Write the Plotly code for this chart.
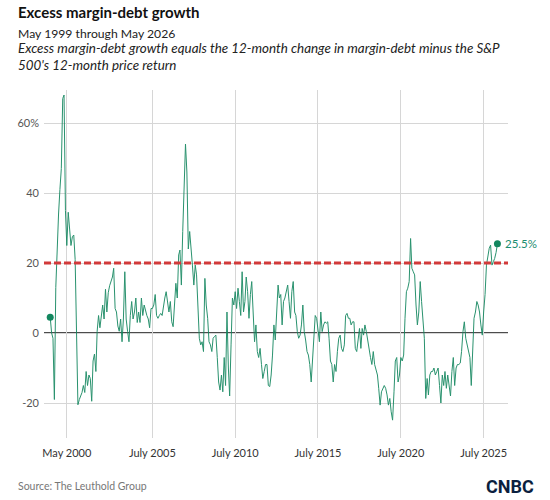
import pandas as pd
import plotly.graph_objects as go

start_month = "1999-05-01"
excess_growth = [
    4.5, 0, -1.5, -19, 13, 26, 34, 41, 47, 67, 68, 35,
    25, 34.5, 30, 25, 27.5, 28, 21, 0, -20.5, -19, -18, -17,
    -15, -17, -11, -15, -12, -13, -19.5, -8, -6, -11, 0.5, 5,
    1.5, 6, 8, 4, 12.5, 6, 11.5, 13.5, 14.5, 16, 18.5, 7,
    6, 2, 0.5, 4, -2.5, 4, 17.5, 4, 0.5, -2.5, 5, 9,
    4, 6, 10, 3, 6, 3, 10, 5, 8, 6, 5, 4,
    1.5, 7, 7, 8, 11, 5, 4.2, 5, 5.6, 5, 8, 10,
    11.8, 8, 6, 9, 3.2, 1.8, 9, 14.2, 10, 22.3, 23.7, 13.7,
    29, 43, 54, 46, 24, 29, 25, 19.4, 13.7, 19.4, 16.6, 9,
    -1.5, -3.4, -2.5, -5.3, 15.6, 8, 4.2, -2.5, -3.4, -5.3, -1.5, -1,
    -0.6, -7, -14, -16.3, -12, -16.8, -7, -15, 6, -10, -18, -3.4,
    10, 8, 11.8, 7, 12.8, 9, 5, 17.5, 6, 9, 16, 11.8,
    4.2, 11, 14.7, 6, -2.5, 2.3, -5.3, -7, -4.4, -9, -13, -11,
    -9, -9, -15, -15.3, -12, -6.3, 2.3, -2, 5, 13.7, 10, 11,
    2.3, 9, 10, 11.8, 13.7, 9, 4.2, 11.8, 14.7, 6, 5, 0.4,
    -1.5, -0.6, 2.3, 8, 0.4, -2, -5.3, -6.3, -9, -14, -7, -1.5,
    5, 4.2, 0.4, -2.5, 6, 0.4, 2.3, 3.2, 2.8, 3.2, -1.5, -8,
    -9, -14, -9, -11, -5.3, -1.5, -0.6, -4.4, -5.3, -3.4, 5, 5.6,
    4.2, 4.2, 2.3, 3.2, 3.2, -4.4, -5.3, -1.5, 1.3, -4.4, 1.3, -0.6,
    2.3, 0.4, -2.5, -4.4, -7, -9, -5.3, -9, -11, -12, -15.8, -20.6,
    -16.8, -15.8, -15, -15.8, -17.7, -20.6, -18.7, -22.5, -24.9, -16.8, -8, -7,
    -14, -12, -7, -8, -6.3, 4.2, 11.8, 12.8, 14.7, 27, 18.5, 17.5,
    16.6, 8, 2.3, 6, 14.7, 9, 2.3, -1.5, -18.7, -13, -17.7, -12,
    -11, -11, -10, -12, -11, -10, -15, -20, -12, -15, -11, -15.8,
    -12, -15, -18, -11, -7, -15, -10, -9, -9, -8.6, -5.3, 0.4,
    3.2, -1.5, -3.4, -5.3, -7, -15, -2.5, 4.2, 6, 9, 8, 6,
    2.3, -0.6, 6, 11, 19.4, 22.3, 24.2, 25.1, 19.4, 20.4, 21.3, 23,
    25.5,
]
threshold = 20
tick_dates = ["2000-05-01", "2005-07-01", "2010-07-01", "2015-07-01", "2020-07-01", "2025-07-01"]
tick_labels = ["May 2000", "July 2005", "July 2010", "July 2015", "July 2020", "July 2025"]
y_ticks = [-20, 0, 20, 40, 60]
y_labels = ["-20", "0", "20", "40", "60%"]

dates = pd.date_range(start_month, periods=len(excess_growth), freq="MS")
GREEN = "#13875f"
FONT = "Lato"

fig = go.Figure()
fig.add_hline(y=0, line=dict(color="#111111", width=1.3), layer="below")
fig.add_trace(go.Scatter(x=dates, y=excess_growth, mode="lines",
                         line=dict(color=GREEN, width=1.0), opacity=0.9, hoverinfo="skip"))
fig.add_trace(go.Scatter(x=[dates[0], dates[-1]], y=[excess_growth[0], excess_growth[-1]],
                         mode="markers", marker=dict(color=GREEN, size=7), hoverinfo="skip"))
fig.add_hline(y=threshold, line=dict(color="#d23a3a", width=3, dash="7px,3px"))

W, H = 550, 500
L, R, T, B = 44, 42, 90, 62
pw, ph = W - L - R, H - T - B

def px(x):
    return (x - L) / pw

def py(y):
    return (H - B - y) / ph

annotations = [
    dict(text="<b>Excess margin-debt growth</b>", x=px(16), y=py(12), xanchor="left", yanchor="middle",
         font=dict(size=15, color="#111111", family=FONT)),
    dict(text="May 1999 through May 2026", x=px(16), y=py(33), xanchor="left", yanchor="middle",
         font=dict(size=12.2, color="#222222", family=FONT)),
    dict(text="<i>Excess margin-debt growth equals the 12-month change in margin-debt minus the S&P<br>500's 12-month price return</i>",
         x=px(16), y=py(56), xanchor="left", yanchor="middle", align="left",
         font=dict(size=13.4, color="#222222", family=FONT)),
    dict(text="Source: The Leuthold Group", x=px(16), y=py(486), xanchor="left", yanchor="middle",
         font=dict(size=10.5, color="#777777", family=FONT)),
    dict(text="<b>CNBC</b>", x=px(536), y=py(486), xanchor="right", yanchor="middle",
         font=dict(size=18, color="#0b1f3f", family="Roboto")),
    dict(text=f"{excess_growth[-1]}%", x=dates[-1], y=excess_growth[-1], xref="x", yref="y",
         xanchor="left", yanchor="middle", xshift=6, showarrow=False,
         font=dict(size=11.5, color="#1b8d70", family=FONT)),
]
for a in annotations:
    a.setdefault("xref", "paper")
    a.setdefault("yref", "paper")
    a["showarrow"] = False

fig.update_layout(
    width=W, height=H, margin=dict(l=L, r=R, t=T, b=B),
    paper_bgcolor="white", plot_bgcolor="white", showlegend=False,
    annotations=annotations,
    xaxis=dict(type="date", range=["1998-12-15", "2026-12-20"], tickvals=tick_dates, ticktext=tick_labels,
               showgrid=True, gridcolor="#d6d6d6", gridwidth=1, zeroline=False, showline=False,
               ticks="", ticklabelstandoff=7, tickfont=dict(size=11, color="#333333", family=FONT)),
    yaxis=dict(range=[-30, 69.43], tickvals=y_ticks, ticktext=y_labels, showgrid=True,
               gridcolor="#d6d6d6", gridwidth=1, zeroline=False, showline=False, ticks="",
               tickfont=dict(size=11, color="#555555", family=FONT), ticklabelstandoff=4),
)
fig.write_html("out.html")
